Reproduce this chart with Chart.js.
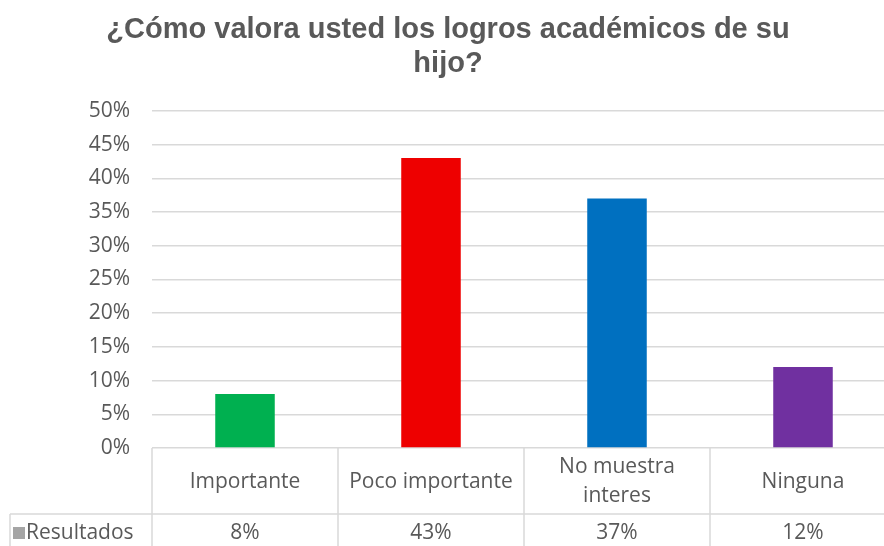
<!DOCTYPE html>
<html>
<head>
<meta charset="utf-8">
<script src="https://cdn.jsdelivr.net/npm/chart.js@4"></script>
<style>
  html, body { margin: 0; padding: 0; background: #fff; overflow: hidden; }
  #wrap { width: 896px; height: 546px; position: relative; }
</style>
</head>
<body>
<div id="wrap"><canvas id="chart"></canvas></div>
<script>
const categories = ['Importante', 'Poco importante', ['No muestra', 'interes'], 'Ninguna'];
const values = [8, 43, 37, 12];
const valueLabels = ['8%', '43%', '37%', '12%'];
const barColors = ['#00b050', '#ee0000', '#0070c0', '#7030a0'];
const seriesName = 'Resultados';
const titleLines = ['¿Cómo valora usted los logros académicos de su', 'hijo?'];

const textColor = '#595959';
const lineColor = '#d9d9d9';

// tabla de datos debajo del eje (como en Excel)
const dataTable = {
  id: 'dataTable',
  afterDraw(chart) {
    const { ctx, chartArea, scales } = chart;
    const x = scales.x;
    const top = chartArea.bottom;
    const rowSplit = top + 66;
    const bottom = chart.height;
    const half = (x.getPixelForValue(1) - x.getPixelForValue(0)) / 2;

    ctx.save();
    ctx.strokeStyle = lineColor;
    ctx.lineWidth = 1.5;
    ctx.beginPath();
    // separador de filas
    ctx.moveTo(10, rowSplit);
    ctx.lineTo(chart.width, rowSplit);
    ctx.moveTo(10, rowSplit);
    ctx.lineTo(10, bottom);
    for (let i = 0; i <= categories.length; i++) {
      const px = Math.round(x.getPixelForValue(i) - half);
      ctx.moveTo(px, top);
      ctx.lineTo(px, bottom);
    }
    ctx.stroke();

    ctx.fillStyle = textColor;
    ctx.font = '21px "Open Sans"';
    ctx.textAlign = 'center';
    ctx.textBaseline = 'middle';
    categories.forEach((c, i) => {
      const cx = x.getPixelForValue(i);
      const lines = Array.isArray(c) ? c : [c];
      const lh = 29;
      const y0 = (top + rowSplit) / 2 - (lines.length - 1) * lh / 2;
      lines.forEach((l, j) => ctx.fillText(l, cx, y0 + 1 + j * lh));
      ctx.fillText(valueLabels[i], cx, (rowSplit + bottom) / 2 + 3);
    });

    // etiqueta de la serie con su cuadrito
    ctx.fillStyle = '#a5a5a5';
    ctx.fillRect(13, rowSplit + 13, 12, 12);
    ctx.fillStyle = textColor;
    ctx.textAlign = 'left';
    ctx.fillText(seriesName, 26, (rowSplit + bottom) / 2 + 3);
    ctx.restore();
  }
};

new Chart(document.getElementById('chart'), {
  type: 'bar',
  data: {
    labels: categories,
    datasets: [{
      label: seriesName,
      data: values,
      backgroundColor: barColors,
      categoryPercentage: 1,
      barPercentage: 0.32
    }]
  },
  options: {
    responsive: true,
    maintainAspectRatio: false,
    animation: false,
    layout: { padding: { top: 0, left: 0, right: 0, bottom: 98 } },
    plugins: {
      legend: { display: false },
      tooltip: { enabled: false },
      title: {
        display: true,
        text: titleLines,
        color: textColor,
        font: { family: '"Liberation Sans", Arial', size: 29, weight: 'bold', lineHeight: 1.17 },
        padding: { top: 13, bottom: 30 }
      }
    },
    scales: {
      x: { display: false },
      y: {
        min: 0,
        max: 50,
        ticks: {
          stepSize: 5,
          color: textColor,
          font: { family: '"Open Sans"', size: 21 },
          padding: 22,
          callback: v => v + '%'
        },
        grid: { color: lineColor, lineWidth: 1.5, drawTicks: false },
        border: { display: false },
        afterFit(scale) { scale.width = 152; }
      }
    }
  },
  plugins: [dataTable]
});
</script>
</body>
</html>
